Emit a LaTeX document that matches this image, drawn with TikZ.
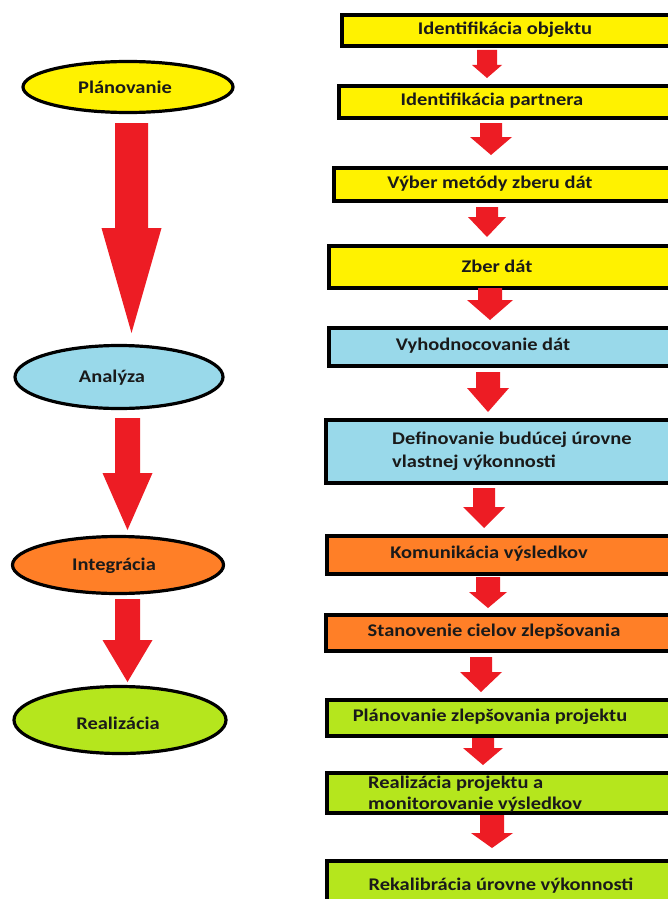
\documentclass[tikz,border=0pt]{standalone}
\usepackage{fontspec}
\setmainfont[FakeStretch=1.15]{Carlito}
\usetikzlibrary{shapes.geometric}
\definecolor{yel}{HTML}{FFF200}
\definecolor{blu}{HTML}{99D9EA}
\definecolor{ora}{HTML}{FF7F27}
\definecolor{lim}{HTML}{B5E61D}
\definecolor{arrowred}{HTML}{ED1C24}
\definecolor{txt}{HTML}{1A1A1A}
\newcommand\blockarrow[6]{%
  \fill[arrowred] ({#1-#5},#2) -- ({#1+#5},#2) -- ({#1+#5},#3) -- ({#1+#6},#3)
    -- (#1,#4) -- ({#1-#6},#3) -- ({#1-#5},#3) -- cycle;}
\tikzset{
  box/.style={draw=black, line width=4pt, rectangle, anchor=north west, inner sep=0pt, minimum width=356pt},
  oval/.style={draw=black, line width=3.2pt, ellipse, inner sep=0pt},
  lbl/.style={text=txt, font=\fontsize{17.8}{23}\selectfont\bfseries, inner sep=0pt},
}
\begin{document}
\begin{tikzpicture}[x=1pt,y=-1pt]
\useasboundingbox (0,0) rectangle (668,899);
\fill[white] (0,0) rectangle (668,899);
\clip (0,0) rectangle (668,899);
% left ellipses
\node[oval, fill=yel, minimum width=210pt, minimum height=51pt] (e1) at (128,87) {};
\node[lbl] (le1) at (125,87) {Plánovanie};
\node[oval, fill=blu, minimum width=208pt, minimum height=63pt] (e2) at (119,377) {};
\node[lbl] (le2) at (112,378) {Analýza};
\node[oval, fill=ora, minimum width=211pt, minimum height=57pt] (e3) at (118,565) {};
\node[lbl] (le3) at (114,566) {Integrácia};
\node[oval, fill=lim, minimum width=212pt, minimum height=67pt] (e4) at (120,720) {};
\node[lbl] (le4) at (118,723) {Realizácia};
% big arrows
\blockarrow{131.5}{123}{228}{333}{16.5}{30}
\blockarrow{127.5}{418}{473}{530}{12.5}{25}
\blockarrow{127.5}{599}{640}{682}{12.5}{25}
% right boxes
\node[box, fill=yel, minimum height=31pt] (b1) at (340,13) {};
\node[lbl] (t1) at (505,30) {Identifikácia objektu};
\node[box, fill=yel, minimum height=32pt] (b2) at (337,84) {};
\node[lbl] (t2) at (492,101) {Identifikácia partnera};
\node[box, fill=yel, minimum height=33pt] (b3) at (332,166) {};
\node[lbl] (t3) at (490,184) {Výber metódy zberu dát};
\node[box, fill=yel, minimum height=42pt] (b4) at (327,244) {};
\node[lbl] (t4) at (497,266) {Zber dát};
\node[box, fill=blu, minimum height=38pt] (b5) at (327,326) {};
\node[lbl] (t5) at (483,346) {Vyhodnocovanie dát};
\node[box, fill=blu, minimum height=63pt] (b6) at (324,418) {};
\node[lbl, align=left, anchor=west] (t6) at (392,451) {Definovanie budúcej úrovne\\vlastnej výkonnosti};
\node[box, fill=ora, minimum height=38pt] (b7) at (325,534) {};
\node[lbl] (t7) at (489,554) {Komunikácia výsledkov};
\node[box, fill=ora, minimum height=36pt] (b8) at (324,613) {};
\node[lbl] (t8) at (494,632) {Stanovenie cielov zlepšovania};
\node[box, fill=lim, minimum height=36pt] (b9) at (325,698) {};
\node[lbl] (t9) at (490,717) {Plánovanie zlepšovania projektu};
\node[box, fill=lim, minimum height=40pt] (b10) at (325,771) {};
\node[lbl, align=left, anchor=west, font=\fontsize{17.8}{21}\selectfont\bfseries] (t10) at (368,794) {Realizácia projektu a\\monitorovanie výsledkov};
\node[box, fill=lim, minimum height=51pt] (b11) at (325,859) {};
\node[lbl] (t11) at (501,886) {Rekalibrácia úrovne výkonnosti};
% small arrows
\blockarrow{487}{50}{65}{78}{10}{15}
\blockarrow{491}{123}{137}{155}{11}{21}
\blockarrow{487}{207}{217}{237}{11}{19}
\blockarrow{490}{288}{300}{320}{12}{23}
\blockarrow{488}{372}{388}{412}{12}{21}
\blockarrow{484}{488}{507}{528}{11}{21}
\blockarrow{488}{577}{592}{608}{12}{19}
\blockarrow{481}{657}{672}{692}{11}{21}
\blockarrow{483}{738}{748}{765}{11}{20}
\blockarrow{492}{815}{833}{848}{12}{21}
\end{tikzpicture}
\end{document}
